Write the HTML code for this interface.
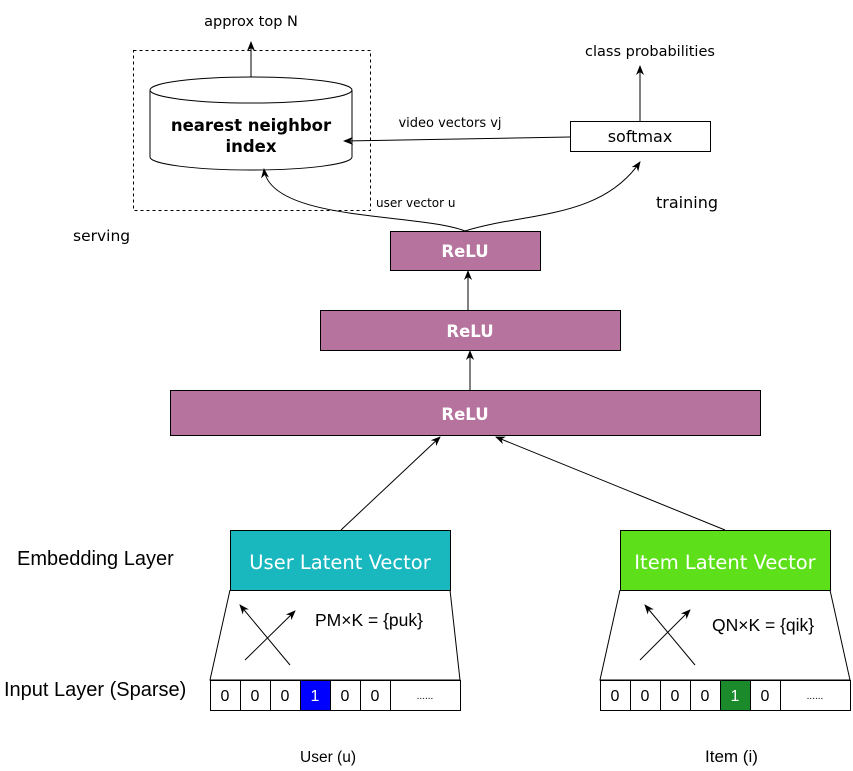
<!DOCTYPE html>
<html><head><meta charset="utf-8"><style>
html,body{margin:0;padding:0;background:#fff}
svg{display:block;font-family:"Liberation Sans","DejaVu Sans",sans-serif}
.dv{font-family:"DejaVu Sans","Liberation Sans",sans-serif}
</style></head><body>
<svg width="853" height="771" viewBox="0 0 853 771">
<defs><marker id="ah" markerWidth="10" markerHeight="10" refX="9" refY="5" orient="auto" markerUnits="userSpaceOnUse"><path d="M0,1 L10,5 L0,9 L3,5 Z" fill="#000"/></marker></defs>
<g stroke="#000" fill="none" stroke-width="1">
<rect x="133.5" y="50.5" width="237" height="160" stroke-dasharray="3,3"/>
<g>
<path d="M150,90 L150,157 A101,13 0 0 0 352,157 L352,90" fill="#fff"/>
<ellipse cx="251" cy="90" rx="101" ry="13" fill="#fff"/>
</g>
<line x1="251" y1="77" x2="251" y2="42" marker-end="url(#ah)"/>
<rect x="570.5" y="121.5" width="140" height="30" fill="#fff"/>
<line x1="640" y1="121" x2="640" y2="66" marker-end="url(#ah)"/>
<line x1="570" y1="137" x2="344" y2="141" marker-end="url(#ah)"/>
<path d="M465,231 C420,213 270,222 264,169" marker-end="url(#ah)"/>
<path d="M465,231 C525,212 600,220 640,162" marker-end="url(#ah)"/>
<rect x="390.5" y="231.5" width="150" height="39" fill="#b5739d"/>
<rect x="320.5" y="310.5" width="300" height="40" fill="#b5739d"/>
<rect x="170.5" y="390.5" width="590" height="45" fill="#b5739d"/>
<line x1="468" y1="310" x2="468" y2="271" marker-end="url(#ah)"/>
<line x1="470" y1="390" x2="470" y2="351" marker-end="url(#ah)"/>
<line x1="341" y1="530" x2="440" y2="437" marker-end="url(#ah)"/>
<line x1="725" y1="530" x2="496" y2="437" marker-end="url(#ah)"/>
<path d="M230,590 L210,680 L460,680 L450,590"/>
<path d="M620,590 L600,680 L850,680 L830,590"/>
<rect x="230.5" y="530.5" width="220" height="60" fill="#19b8bf"/>
<rect x="620.5" y="530.5" width="210" height="60" fill="#5de01a"/>
<line x1="245" y1="660" x2="295" y2="611" marker-end="url(#ah)"/>
<line x1="290" y1="665" x2="240" y2="605" marker-end="url(#ah)"/>
<line x1="640" y1="660" x2="690" y2="610" marker-end="url(#ah)"/>
<line x1="695" y1="665" x2="645" y2="605" marker-end="url(#ah)"/>
<g>
<rect x="210.5" y="680.5" width="30" height="30" fill="#fff"/><rect x="240.5" y="680.5" width="30" height="30" fill="#fff"/><rect x="270.5" y="680.5" width="30" height="30" fill="#fff"/><rect x="300.5" y="680.5" width="30" height="30" fill="#0000ff"/><rect x="330.5" y="680.5" width="30" height="30" fill="#fff"/><rect x="360.5" y="680.5" width="30" height="30" fill="#fff"/><rect x="390.5" y="680.5" width="70" height="30" fill="#fff"/>
</g>
<g>
<rect x="600.5" y="680.5" width="30" height="30" fill="#fff"/><rect x="630.5" y="680.5" width="30" height="30" fill="#fff"/><rect x="660.5" y="680.5" width="30" height="30" fill="#fff"/><rect x="690.5" y="680.5" width="30" height="30" fill="#fff"/><rect x="720.5" y="680.5" width="30" height="30" fill="#1a8a2a"/><rect x="750.5" y="680.5" width="30" height="30" fill="#fff"/><rect x="780.5" y="680.5" width="70" height="30" fill="#fff"/>
</g>
</g>
<g fill="#000" font-size="16">
<text class="dv" x="251" y="26" text-anchor="middle" font-size="14.5">approx top N</text>
<text class="dv" x="650" y="56" text-anchor="middle" font-size="14.5">class probabilities</text>
<text class="dv" x="251" y="131" text-anchor="middle" font-weight="bold" font-size="16.5">nearest neighbor</text>
<text class="dv" x="251" y="152" text-anchor="middle" font-weight="bold" font-size="16.5">index</text>
<text class="dv" x="640" y="142" text-anchor="middle" font-size="16">softmax</text>
<text class="dv" x="450" y="127" text-anchor="middle" font-size="13">video vectors vj</text>
<text class="dv" x="376" y="207" font-size="12">user vector u</text>
<text class="dv" x="656" y="208" font-size="16">training</text>
<text class="dv" x="73" y="241" font-size="15.5">serving</text>
<text class="dv" x="465" y="257" text-anchor="middle" fill="#fff" font-weight="bold" font-size="16.5">ReLU</text>
<text class="dv" x="470" y="337" text-anchor="middle" fill="#fff" font-weight="bold" font-size="16.5">ReLU</text>
<text class="dv" x="465" y="420" text-anchor="middle" fill="#fff" font-weight="bold" font-size="16.5">ReLU</text>
<text class="dv" x="340" y="569" text-anchor="middle" fill="#fff" font-size="19.5">User Latent Vector</text>
<text class="dv" x="725" y="569" text-anchor="middle" fill="#fff" font-size="19.5">Item Latent Vector</text>
<text x="315" y="626" font-size="17.5">PM×K = {puk}</text>
<text x="712" y="631" font-size="17.5">QN×K = {qik}</text>
<text x="17" y="565" font-size="20">Embedding Layer</text>
<text x="4" y="696" font-size="20">Input Layer (Sparse)</text>
<text x="300" y="762" font-size="15.5">User (u)</text>
<text x="705" y="762" font-size="17">Item (i)</text>
<g font-size="16" text-anchor="middle">
<text x="225" y="701">0</text><text x="255" y="701">0</text><text x="285" y="701">0</text><text x="315" y="701" fill="#fff">1</text><text x="345" y="701">0</text><text x="375" y="701">0</text><text x="425" y="699" font-size="10">......</text>
<text x="615" y="701">0</text><text x="645" y="701">0</text><text x="675" y="701">0</text><text x="705" y="701">0</text><text x="735" y="701" fill="#fff">1</text><text x="765" y="701">0</text><text x="815" y="699" font-size="10">......</text>
</g>
</g>
</svg>
</body></html>
